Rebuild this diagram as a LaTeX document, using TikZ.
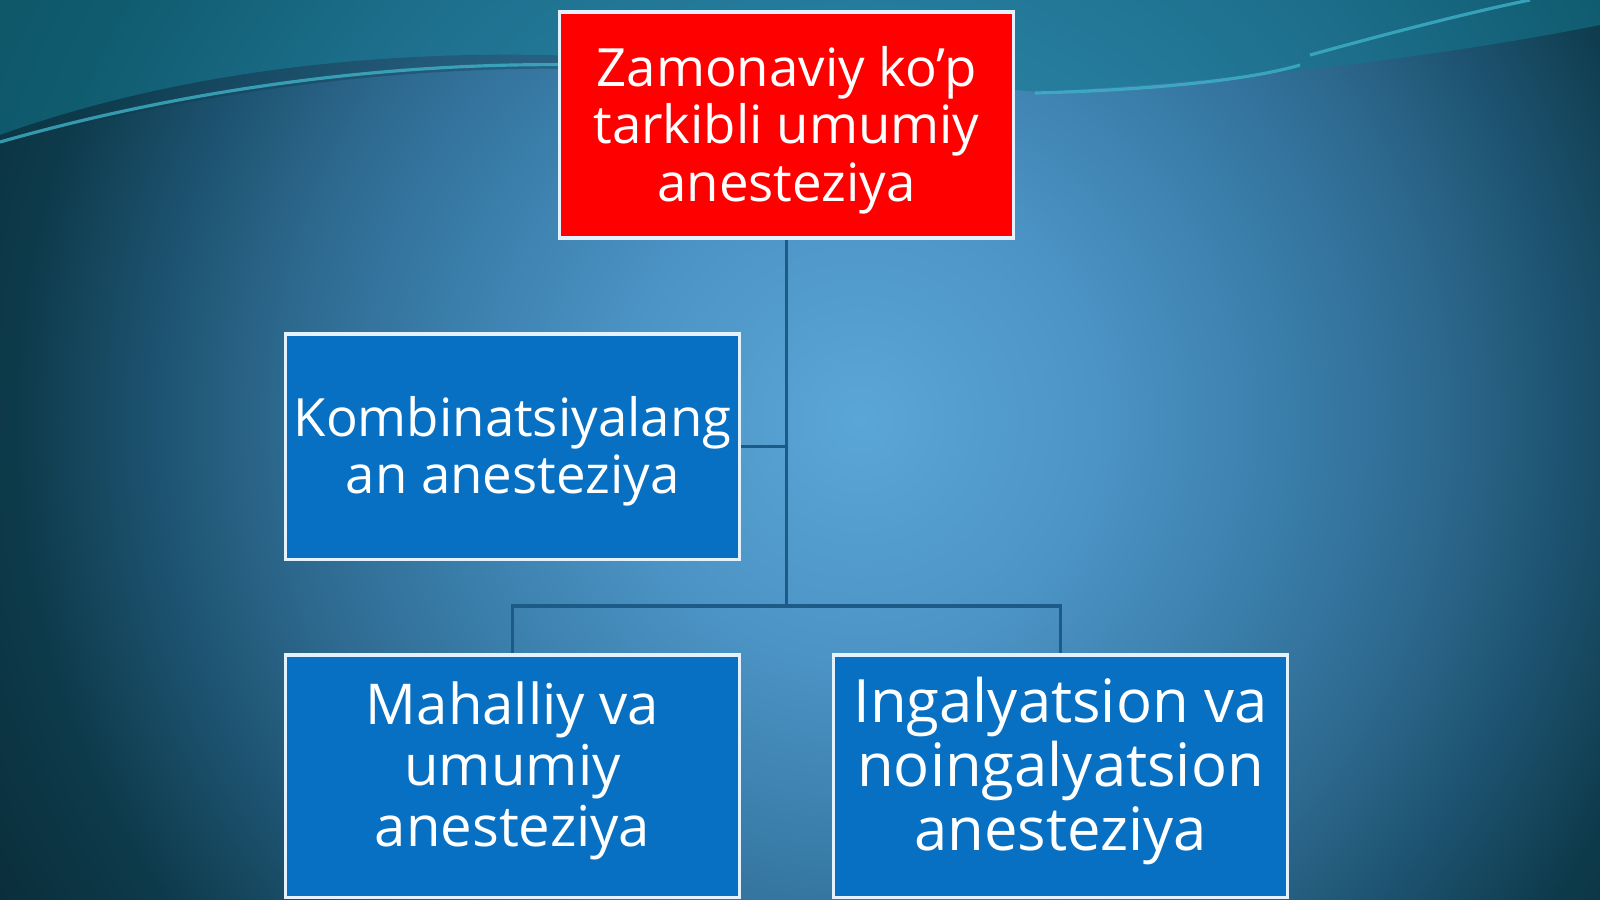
\documentclass[tikz,border=0pt]{standalone}
\usepackage{fontspec}
\setmainfont{Open Sans}
\usepackage{xcolor}
\usepackage{tikz}
\definecolor{bgcore}{HTML}{5AA6D6}
\definecolor{bglight}{HTML}{4B93C4}
\definecolor{bgmid}{HTML}{3A7EAB}
\definecolor{bgsoft}{HTML}{2E6A90}
\definecolor{bgdim}{HTML}{1E5472}
\definecolor{bgdark}{HTML}{0D3A4A}
\definecolor{bgdeep}{HTML}{0A2C38}
\definecolor{wave}{HTML}{13788E}
\definecolor{waveline}{HTML}{3FB2C8}
\definecolor{boxblue}{HTML}{0870C2}
\definecolor{boxred}{HTML}{FF0000}
\definecolor{edge}{HTML}{E4F2FF}
\definecolor{tie}{HTML}{1C5A88}
\pgfdeclareradialshading{slide}{\pgfpoint{0bp}{0bp}}{%
  color(0bp)=(bgcore); color(5.4bp)=(bglight); color(9.2bp)=(bgmid);
  color(12.4bp)=(bgsoft); color(15.2bp)=(bgdim); color(18.4bp)=(bgdark);
  color(21.9bp)=(bgdeep); color(50bp)=(bgdeep)}
\tikzset{
  box/.style={draw=edge, line width=0.9pt, fill=boxblue, minimum width=4.53cm, inner sep=0pt},
  redbox/.style={box, fill=boxred},
  lab/.style={text=white, align=center, font=\fontsize{15}{16.3}\selectfont},
  labmid/.style={lab, font=\fontsize{16}{17.3}\selectfont},
  labbig/.style={lab, font=\fontsize{17}{18.2}\selectfont},
  tie/.style={draw=tie, line width=1.1pt},
  waveln/.style={draw=waveline, line width=0.9pt, opacity=0.8},
}
\begin{document}
\begin{tikzpicture}[x=0.01cm,y=-0.01cm]
  \useasboundingbox (0,0) rectangle (1600,899);
  % background
  \begin{scope}
    \clip (0,0) rectangle (1600,899);
    \fill[bgdeep] (0,0) rectangle (1600,899);
    \shade[shading=slide] (860,420) circle (1150);
    \fill[wave, opacity=0.55] (0,0) -- (0,135) .. controls (180,70) and (400,45) .. (620,58)
      -- (1040,92) .. controls (1250,80) and (1450,55) .. (1600,25) -- (1600,0) -- cycle;
    \fill[bgdark, opacity=0.35] (0,135) .. controls (180,70) and (400,45) .. (620,58)
      -- (620,70) .. controls (420,62) and (200,90) .. (0,145) -- cycle;
    \draw[waveln] (0,142) .. controls (200,85) and (420,58) .. (620,66);
    \draw[waveln] (1035,93) .. controls (1150,90) and (1250,80) .. (1300,65);
    \draw[waveln] (1310,55) .. controls (1400,30) and (1480,10) .. (1530,0);
  \end{scope}

  % boxes
  \node[redbox, minimum height=2.26cm] (top) at (786.5,125) {};
  \node[box, minimum height=2.25cm] (komb) at (512.5,446.5) {};
  \node[box, minimum height=2.42cm] (mahal) at (512.5,776) {};
  \node[box, minimum height=2.42cm] (ingal) at (1060.5,776) {};

  \node[lab] (toptxt) at (786.5,130) {Zamonaviy ko’p\\tarkibli umumiy\\anesteziya};
  \node[lab] (kombtxt) at (512.5,451) {Kombinatsiyalang\\an anesteziya};
  \node[labmid] (mahaltxt) at (512.5,771) {Mahalliy va\\umumiy\\anesteziya};
  \node[labbig] (ingaltxt) at (1060.5,771) {Ingalyatsion va\\noingalyatsion\\anesteziya};

  % connectors
  \coordinate (bus) at (786.5,606);
  \draw[tie] (top.south) -- (bus);
  \draw[tie] (komb.east) -- (komb.east -| bus);
  \draw[tie] (mahal.north) -- (mahal.north |- bus) -- (ingal.north |- bus) -- (ingal.north);
\end{tikzpicture}
\end{document}
